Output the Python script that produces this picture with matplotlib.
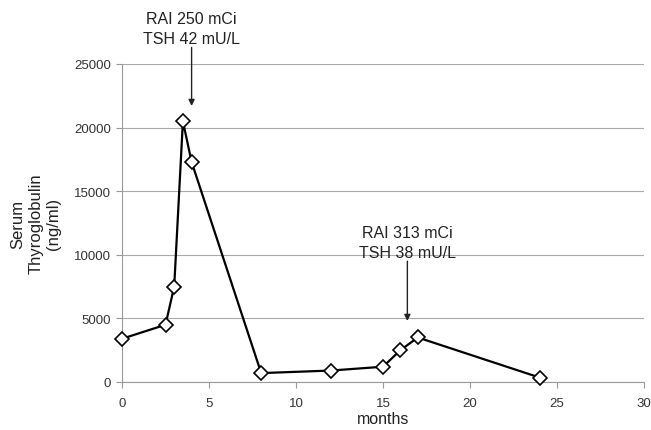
import matplotlib
matplotlib.use("Agg")
import matplotlib.pyplot as plt

months = [0, 2.5, 3, 3.5, 4, 8, 12, 15, 16, 17, 24]
thyroglobulin = [3400, 4500, 7500, 20500, 17300, 700, 900, 1200, 2500, 3500, 350]
x_ticks = [0, 5, 10, 15, 20, 25, 30]
y_ticks = [0, 5000, 10000, 15000, 20000, 25000]
annotations = [("RAI 250 mCi\nTSH 42 mU/L", 4.0, 21700, 26300),
               ("RAI 313 mCi\nTSH 38 mU/L", 16.4, 4800, 9500)]

plt.rcParams['font.family'] = ['Liberation Sans', 'DejaVu Sans']
fig = plt.figure(figsize=(6.51, 4.31), dpi=100)
ax = fig.add_axes([122/651, 1-383/431, (644-122)/651, (383-65)/431])

ax.plot(months, thyroglobulin, color='black', lw=1.6, marker='D', ms=7.5,
        mfc='white', mec='black', mew=1.2, zorder=3, clip_on=False)

ax.set_xlim(0, 30)
ax.set_ylim(0, 25000)
ax.set_xticks(x_ticks)
ax.set_yticks(y_ticks)
ax.tick_params(axis='both', labelsize=9.5, colors='#333333', length=4, width=0.8)
ax.tick_params(axis='x', color='#999999', pad=7)
ax.tick_params(axis='y', color='#999999', pad=4)
ax.yaxis.grid(True, color='#aaaaaa', lw=0.8)
ax.set_axisbelow(True)
for s in ['top', 'right']:
    ax.spines[s].set_visible(False)
for s in ['left', 'bottom']:
    ax.spines[s].set_color('#999999')
    ax.spines[s].set_linewidth(0.8)

ax.set_xlabel('months', fontsize=11.5, color='#222222', labelpad=1)
ax.set_ylabel('Serum\nThyroglobulin\n(ng/ml)', fontsize=12, color='#222222', labelpad=9, linespacing=1.25)

for text, x, ytip, ytail in annotations:
    ax.annotate('', xy=(x, ytip), xytext=(x, ytail),
                arrowprops=dict(arrowstyle='-|>', color='#222222', lw=1.0, mutation_scale=9,
                                shrinkA=0, shrinkB=0),
                annotation_clip=False)
    ax.text(x, ytail + 80, text, ha='center', va='bottom', fontsize=11.5,
            color='#222222', linespacing=1.45, clip_on=False)

fig.savefig('out.png', dpi=100)
